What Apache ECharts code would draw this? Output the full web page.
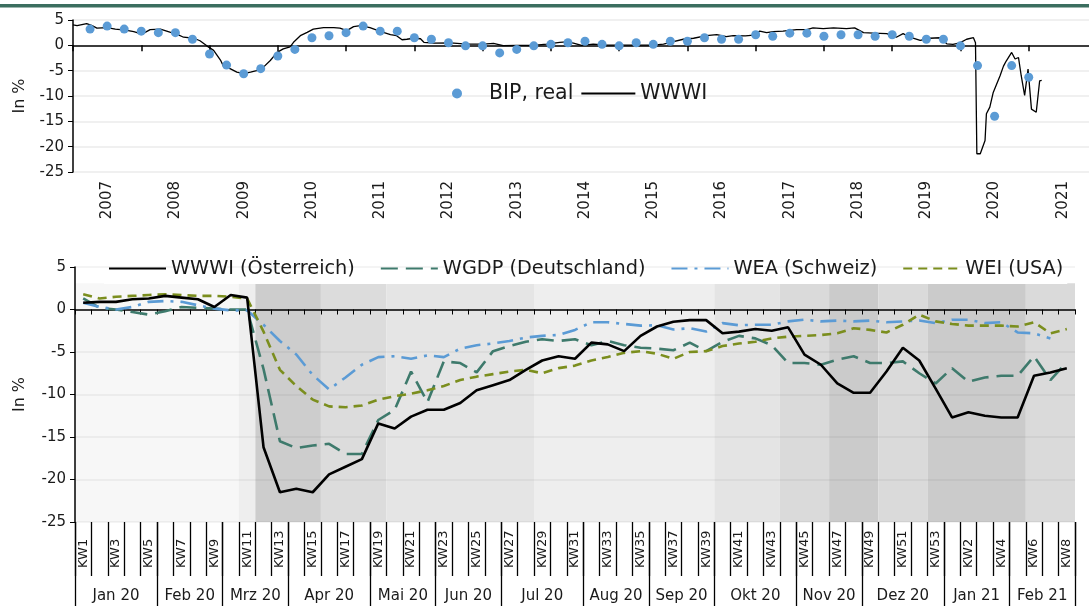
<!DOCTYPE html>
<html>
<head>
<meta charset="utf-8">
<script src="https://cdn.jsdelivr.net/npm/echarts@6/dist/echarts.min.js"></script>
<style>
html, body { margin: 0; padding: 0; background: #fff; }
#chart { width: 1089px; height: 606px; }
</style>
</head>
<body>
<div id="chart"></div>
<script>
// ---- top chart: long history ----
var years = ['2007', '2008', '2009', '2010', '2011', '2012', '2013', '2014',
    '2015', '2016', '2017', '2018', '2019', '2020', '2021'];

// BIP real, quarterly (Q1 2007 .. Q4 2020), y/y in %
var bipReal = [3.2, 3.8, 3.2, 2.8, 2.5, 2.5, 1.2, -1.7, -3.9, -5.6, -4.6, -2.1,
    -0.8, 1.5, 1.9, 2.5, 3.8, 2.8, 2.8, 1.5, 1.2, 0.5, -0.1, -0.1,
    -1.5, -0.8, -0.1, 0.2, 0.5, 0.8, 0.2, -0.1, 0.5, 0.2, 0.8, 0.8,
    1.5, 1.2, 1.2, 2.1, 1.8, 2.4, 2.4, 1.8, 2.1, 2.1, 1.8, 2.1,
    1.8, 1.2, 1.2, -0.1, -4.0, -14.0, -4.0, -6.3];

// WWWI long series (decimal year / value)
var wwwiYearX = [2007.00, 2007.06, 2007.20, 2007.28, 2007.35, 2007.50, 2007.62, 2007.77, 2007.89,
    2008.01, 2008.13, 2008.28, 2008.43, 2008.52, 2008.62, 2008.77, 2008.86, 2008.96,
    2009.06, 2009.16, 2009.21, 2009.30, 2009.40, 2009.50, 2009.60, 2009.69, 2009.79, 2009.89, 2009.99,
    2010.08, 2010.18, 2010.23, 2010.33, 2010.43, 2010.52, 2010.67, 2010.82, 2010.91,
    2011.01, 2011.11, 2011.21, 2011.35, 2011.50, 2011.65, 2011.74, 2011.82, 2011.89, 2011.99,
    2012.09, 2012.14, 2012.28, 2012.53, 2012.77, 2013.01, 2013.16, 2013.30, 2013.50, 2013.74, 2013.94,
    2014.13, 2014.23, 2014.33, 2014.45, 2014.62, 2014.82, 2015.21, 2015.50, 2015.65, 2015.75, 2015.94,
    2016.09, 2016.28, 2016.43, 2016.57, 2016.67, 2016.85, 2016.97,
    2017.06, 2017.16, 2017.26, 2017.40, 2017.60, 2017.75, 2017.84, 2017.99,
    2018.14, 2018.33, 2018.45, 2018.58, 2018.72, 2018.92,
    2019.06, 2019.16, 2019.26, 2019.41, 2019.55, 2019.70, 2019.80, 2019.89, 2019.99,
    2020.09, 2020.19, 2020.22, 2020.24, 2020.29, 2020.36, 2020.38, 2020.43, 2020.48, 2020.58,
    2020.63, 2020.67, 2020.75, 2020.80, 2020.85, 2020.89, 2020.94, 2020.99,
    2021.04, 2021.11, 2021.16, 2021.19];
var wwwiYearY = [4.05, 3.9, 4.3, 3.9, 3.4, 3.5, 3.2, 3.0, 2.7,
    2.2, 3.1, 3.2, 2.55, 2.2, 1.6, 1.4, 0.9, -0.1,
    -1.0, -2.9, -4.3, -4.6, -5.3, -5.6, -5.3, -5.0, -4.3, -3.0, -1.4,
    -0.7, -0.3, 0.6, 1.9, 2.55, 3.2, 3.5, 3.5, 3.4,
    2.9, 3.7, 3.9, 3.5, 2.75, 2.1, 1.9, 1.1, 1.2, 1.4,
    1.3, 0.6, 0.45, 0.5, 0.25, 0.25, 0.4, -0.05, 0.0, 0.0, 0.25,
    0.6, 0.7, 0.45, 0.0, 0.25, 0.05, 0.05, 0.05, 0.25, 0.6, 1.2,
    1.4, 1.9, 2.1, 1.7, 1.9, 1.85, 2.0,
    2.8, 2.5, 2.7, 2.8, 3.1, 3.1, 3.45, 3.3,
    3.45, 3.3, 3.45, 2.5, 2.4, 2.3,
    1.6, 2.3, 1.6, 1.0, 1.4, 1.5, 0.3, 0.2, 0.5,
    1.2, 1.5, 0.5, -21.4, -21.4, -18.8, -13.5, -12.2, -9.3, -6.0,
    -4.1, -3.1, -1.4, -2.7, -2.4, -6.0, -9.9, -4.7,
    -12.6, -13.2, -7.0, -6.9];

// ---- bottom chart: weekly 2020/21 ----
var weeks = [];
for (var k = 1; k <= 53; k++) weeks.push('KW' + k);
for (var k2 = 1; k2 <= 8; k2++) weeks.push('KW' + k2);

var monthNames = ['Jan 20', 'Feb 20', 'Mrz 20', 'Apr 20', 'Mai 20', 'Jun 20', 'Jul 20',
    'Aug 20', 'Sep 20', 'Okt 20', 'Nov 20', 'Dez 20', 'Jan 21', 'Feb 21'];
var monthWeekCounts = [5, 4, 4, 5, 4, 4, 5, 4, 4, 5, 4, 5, 4, 4];

var wwwiAT = [0.8, 0.9, 0.9, 1.2, 1.3, 1.6, 1.4, 1.2, 0.3, 1.7, 1.4,
    -16.2, -21.5, -21.1, -21.5, -19.4, -18.5, -17.6, -13.4, -14.0,
    -12.6, -11.8, -11.8, -11.0, -9.5, -8.9, -8.3, -7.1, -6.0, -5.5, -5.8,
    -3.9, -4.1, -4.9, -3.1, -2.0, -1.45, -1.25, -1.25, -2.8, -2.6,
    -2.3, -2.5, -2.1, -5.3, -6.5, -8.7, -9.8, -9.8, -7.3, -4.5,
    -6.0, -9.3, -12.7, -12.1, -12.5, -12.7, -12.7, -7.8, -7.4, -6.9];
var wgdpDE = [1.3, 0.2, 0.0, -0.3, -0.6, -0.2, 0.3, 0.2, 0.1, 0.0, 0.0,
    -7.0, -15.5, -16.3, -16.0, -15.8, -17.0, -17.0, -13.0, -11.8,
    -7.3, -10.9, -6.1, -6.3, -7.4, -4.9, -4.3, -3.8, -3.5, -3.7, -3.5,
    -4.2, -3.7, -4.2, -4.5, -4.6, -4.8, -3.9, -4.9, -3.8, -3.1,
    -3.4, -4.2, -6.3, -6.3, -6.5, -5.9, -5.5, -6.3, -6.3, -6.1,
    -7.5, -8.7, -6.9, -8.5, -8.0, -7.8, -7.8, -5.5, -8.3, -6.2];
var weaCH = [0.8, 0.3, 0.0, 0.3, 0.9, 1.0, 0.9, 0.5, 0.1, -0.1, -0.1,
    -1.8, -3.7, -5.3, -7.7, -9.4, -8.0, -6.5, -5.6, -5.5,
    -5.8, -5.4, -5.6, -4.6, -4.2, -4.0, -3.7, -3.3, -3.1, -3.0, -2.4,
    -1.5, -1.5, -1.7, -1.9, -1.85, -2.35, -2.2, -2.6, -1.6, -1.85,
    -1.8, -1.8, -1.4, -1.2, -1.4, -1.3, -1.4, -1.3, -1.5, -1.4,
    -1.3, -1.6, -1.2, -1.2, -1.6, -1.5, -2.7, -2.8, -3.4, null];
var weiUS = [1.8, 1.3, 1.5, 1.6, 1.7, 1.8, 1.7, 1.6, 1.6, 1.5, 1.3,
    -2.6, -7.1, -9.0, -10.6, -11.4, -11.5, -11.3, -10.6, -10.2,
    -9.9, -9.5, -9.0, -8.3, -7.9, -7.6, -7.3, -7.1, -7.5, -6.9, -6.6,
    -6.0, -5.6, -5.1, -4.9, -5.2, -5.8, -5.0, -4.9, -4.3, -4.0,
    -3.8, -3.4, -3.2, -3.1, -3.0, -2.8, -2.2, -2.4, -2.7, -1.8,
    -0.6, -1.4, -1.7, -1.9, -1.9, -1.9, -2.0, -1.5, -2.8, -2.3];

// background shading periods: [from week index, to week index, colour]
var shadePeriods = [[0, 10, '#f7f7f7'], [10, 11, '#eeeeee'], [11, 15, '#cdcdcd'],
    [15, 19, '#dcdcdc'], [19, 28, '#e5e5e5'], [28, 39, '#eeeeee'], [39, 43, '#e4e4e4'],
    [43, 46, '#dadada'], [46, 49, '#cbcbcb'], [49, 52, '#dadada'], [52, 58, '#cbcbcb'],
    [58, 61, '#dadada']];

// half-week slots for month labels / separators
var halfSlots = [];
var monthCenter = {}, monthEdge = {0: true};
var acc = 0;
monthWeekCounts.forEach(function (n, i) {
    monthCenter[acc * 2 + n] = monthNames[i];
    acc += n;
    monthEdge[acc * 2] = true;
});
for (var h = 0; h <= weeks.length * 2; h++) halfSlots.push(monthCenter[h] || ('s' + h));

var FONT = 'DejaVu Sans';
var txt = '#1a1a1a';
var hideSym = { opacity: 0 };

var myChart = echarts.init(document.getElementById('chart'));

var option = {
    animation: false,
    backgroundColor: '#fff',
    textStyle: { fontFamily: FONT, color: txt },
    graphic: [{
        type: 'rect', left: 0, top: 4, shape: { width: 1089, height: 3.5 },
        style: { fill: '#3b6e5f' }, z: 10
    }],
    legend: [{
        data: [{ name: 'BIP, real' }, { name: 'WWWI', itemStyle: hideSym }],
        left: 447, top: 78,
        itemWidth: 54, itemHeight: 10, itemGap: 7,
        textStyle: { fontFamily: FONT, fontSize: 20.5, color: txt }
    }, {
        data: ['WWWI (Österreich)', 'WGDP (Deutschland)', 'WEA (Schweiz)', 'WEI (USA)'].map(function (n) {
            return { name: n, itemStyle: hideSym };
        }),
        left: 104, top: 257,
        itemWidth: 57, itemHeight: 14, itemGap: 25,
        backgroundColor: '#fff', padding: [2, 4, 6, 4],
        textStyle: { fontFamily: FONT, fontSize: 19.3, color: txt }
    }],
    grid: [
        { left: 73, top: 20, width: 1024, height: 152, outerBoundsMode: 'none' },
        { left: 75, top: 267, right: 14, bottom: 84, outerBoundsMode: 'none' }
    ],
    xAxis: [
        // 0: top, time value axis on zero line
        {
            gridIndex: 0, type: 'value', min: 2007, max: 2022, interval: 1, position: 'bottom',
            axisLine: { onZero: true, lineStyle: { color: '#000', width: 1.5 } },
            axisTick: { show: true, length: 6, lineStyle: { color: '#000', width: 1.5 } },
            axisLabel: { show: false }, splitLine: { show: false }
        },
        // 1: top, year labels at bottom
        {
            gridIndex: 0, type: 'category', data: years, position: 'bottom',
            axisLine: { show: false, onZero: false }, axisTick: { show: false },
            axisLabel: { rotate: 90, margin: 9, fontSize: 15, color: txt, fontFamily: FONT }
        },
        // 2: bottom, weeks on zero line
        {
            gridIndex: 1, type: 'category', data: weeks, position: 'bottom', z: 4,
            axisLine: { onZero: true, lineStyle: { color: '#000', width: 1.5 } },
            axisTick: { show: true, interval: 0, length: 5, lineStyle: { color: '#000' } },
            axisLabel: { show: false }
        },
        // 3: bottom, KW labels
        {
            gridIndex: 1, type: 'category', data: weeks, position: 'bottom',
            axisLine: { show: false, onZero: false },
            axisTick: { show: true, interval: 0, length: 54, lineStyle: { color: '#000', width: 1.3 } },
            axisLabel: {
                interval: 1, rotate: 90, margin: 4, color: txt, fontFamily: FONT,
                formatter: function (v) { return '{k|' + v + '}'; },
                rich: { k: { width: 42, align: 'left', fontSize: 13, fontFamily: FONT, color: txt } }
            }
        },
        // 4: bottom, month labels
        {
            gridIndex: 1, type: 'category', data: halfSlots, boundaryGap: false, position: 'bottom',
            axisLine: { show: false, onZero: false },
            axisTick: {
                show: true, length: 90, lineStyle: { color: '#000', width: 1.3 },
                interval: function (i) { return !!monthEdge[i]; }
            },
            axisLabel: {
                margin: 67, fontSize: 15, color: txt, fontFamily: FONT,
                interval: function (i) { return monthCenter[i] !== undefined; },
                formatter: function (v) { return v.charAt(0) === 's' ? '' : v; }
            }
        },
        // 5: bottom, hidden value axis for shading
        { gridIndex: 1, type: 'value', min: 0, max: weeks.length, show: false, position: 'bottom' }
    ],
    yAxis: [
        {
            gridIndex: 0, type: 'value', min: -25, max: 5, interval: 5,
            name: 'In %', nameLocation: 'middle', nameGap: 45,
            nameTextStyle: { fontSize: 16, color: txt, fontFamily: FONT },
            axisLine: { show: true, lineStyle: { color: '#000', width: 1.5 } },
            axisTick: { show: true, length: 5, lineStyle: { color: '#000' } },
            axisLabel: { fontSize: 15, color: txt, margin: 9, fontFamily: FONT },
            splitLine: { lineStyle: { color: '#ebebeb', width: 1.5 } }
        },
        {
            gridIndex: 1, type: 'value', min: -25, max: 5, interval: 5, z: 4,
            name: 'In %', nameLocation: 'middle', nameGap: 47,
            nameTextStyle: { fontSize: 16, color: txt, fontFamily: FONT },
            axisLine: { show: true, lineStyle: { color: '#000', width: 1.5 } },
            axisTick: { show: true, length: 5, lineStyle: { color: '#000' } },
            axisLabel: { fontSize: 15, color: txt, margin: 9, fontFamily: FONT },
            splitLine: { lineStyle: { color: 'rgba(0,0,0,0.06)', width: 1.5 } }
        }
    ],
    series: [
        {
            name: 'WWWI', type: 'line', xAxisIndex: 0, yAxisIndex: 0,
            data: wwwiYearX.map(function (x, i) { return [x, wwwiYearY[i]]; }),
            symbol: 'none', lineStyle: { color: '#000', width: 1.3 }, itemStyle: { color: '#000' }, z: 3
        },
        {
            name: 'BIP, real', type: 'scatter', xAxisIndex: 0, yAxisIndex: 0,
            data: bipReal.map(function (v, i) { return [2007 + (i + 1) / 4, v]; }),
            symbolSize: 9, itemStyle: { color: '#5b9bd5', opacity: 1 }, z: 4
        },
        {
            name: 'shade', type: 'line', xAxisIndex: 5, yAxisIndex: 1, data: [],
            silent: true, z: 1,
            markArea: {
                silent: true,
                data: shadePeriods.map(function (p) {
                    return [{ xAxis: p[0], yAxis: -25, itemStyle: { color: p[2] } }, { xAxis: p[1], yAxis: 3.1 }];
                })
            }
        },
        {
            name: 'WWWI (Österreich)', type: 'line', xAxisIndex: 2, yAxisIndex: 1, data: wwwiAT,
            symbol: 'none', z: 6, lineStyle: { color: '#000', width: 2.6 }, itemStyle: { color: '#000' }
        },
        {
            name: 'WGDP (Deutschland)', type: 'line', xAxisIndex: 2, yAxisIndex: 1, data: wgdpDE,
            symbol: 'none', z: 5, lineStyle: { color: '#3e7a6c', width: 2.6, type: [17, 8] }, itemStyle: { color: '#3e7a6c' }
        },
        {
            name: 'WEA (Schweiz)', type: 'line', xAxisIndex: 2, yAxisIndex: 1, data: weaCH,
            symbol: 'none', z: 5, lineStyle: { color: '#5b9bd5', width: 2.6, type: [16, 7, 3, 7] }, itemStyle: { color: '#5b9bd5' }
        },
        {
            name: 'WEI (USA)', type: 'line', xAxisIndex: 2, yAxisIndex: 1, data: weiUS,
            symbol: 'none', z: 5, lineStyle: { color: '#7b8e1e', width: 2.6, type: [9, 6] }, itemStyle: { color: '#7b8e1e' }
        }
    ]
};

myChart.setOption(option);
</script>
</body>
</html>
